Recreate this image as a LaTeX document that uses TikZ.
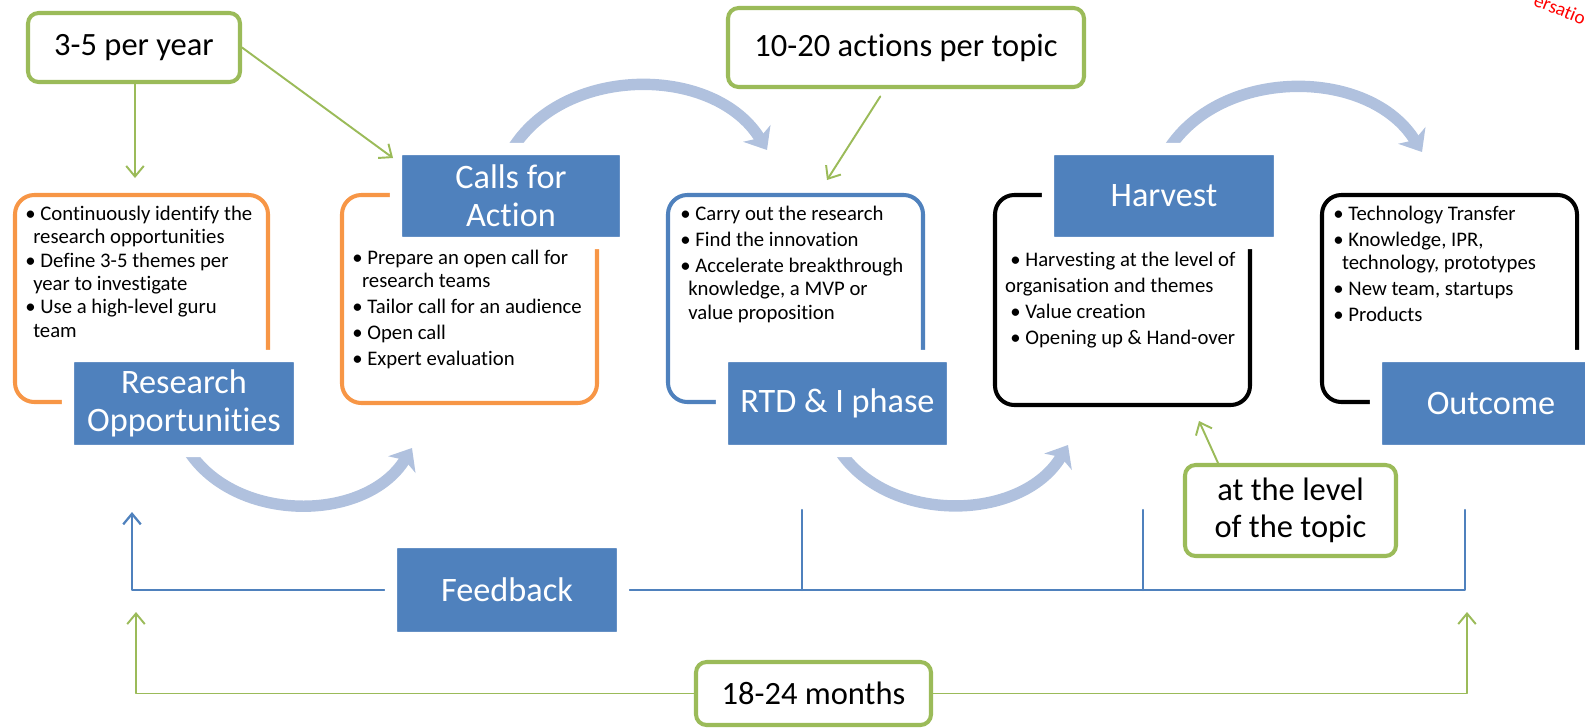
\documentclass[tikz,border=0pt]{standalone}
\usepackage{fontspec}
\setmainfont{Carlito}[Ligatures=NoCommon]
\usetikzlibrary{arrows.meta}
\definecolor{boxblue}{HTML}{4F81BD}
\definecolor{arcblue}{HTML}{B0C1DE}
\definecolor{listorange}{HTML}{F79646}
\definecolor{callgreen}{HTML}{9BBB59}
\newcommand{\bigfont}{\fontsize{19.5}{21.5}\selectfont}
\newcommand{\callfont}{\fontsize{18.5}{21}\selectfont}
\newcommand{\listfont}{\fontsize{11.8}{13.3}\selectfont}
\def\pxu{0.02cm}
\begin{document}
\begin{tikzpicture}[x=0.02cm, y=0.02cm, >={Straight Barb[length=6pt,width=10pt]}, line join=round, line cap=round,
	sz/.style 2 args={minimum width=#1*\pxu, minimum height=#2*\pxu},
	bluebox/.style={fill=boxblue, draw=white, line width=7pt, rounded corners=3pt, text=white, font=\bigfont, align=center, inner sep=0pt},
	listbox/.style={draw=#1, line width=2.3pt, rounded corners=11pt, inner sep=0pt},
	callout/.style={draw=callgreen, fill=white, line width=2.3pt, rounded corners=6pt, font=\callfont, align=center, inner sep=0pt},
	bullets/.style={font=\listfont, align=left, inner sep=0pt, anchor=base west},
	garrow/.style={draw=callgreen, line width=1.1pt, ->},
	fbline/.style={draw=boxblue, line width=1.3pt},
	bigarc/.style={draw=arcblue, line width=6.5pt, line cap=butt, -{Stealth[length=11pt,width=18pt,inset=3pt]}}]
	\useasboundingbox (0,0) rectangle (1585,-727);
	% outlined boxes
	\node[listbox=listorange, sz={253}{207}] (roList) at (141.5,-298.5) {};
	\node[listbox=listorange, sz={255}{208}] (cfaList) at (469.5,-299) {};
	\node[listbox=boxblue, sz={255}{207}] (rtdList) at (795.5,-298.5) {};
	\node[listbox=black, sz={255}{210}] (hvList) at (1122.5,-300) {};
	\node[listbox=black, sz={255}{207}] (ocList) at (1449.5,-298.5) {};
	% cycle arcs
	\coordinate (a1s) at (188,-450); \coordinate (a1e) at (412,-448);
	\coordinate (a2s) at (513,-148); \coordinate (a2e) at (767,-150);
	\coordinate (a3s) at (839,-450); \coordinate (a3e) at (1068,-445);
	\coordinate (a4s) at (1168,-150); \coordinate (a4e) at (1422,-152);
	\draw[bigarc] (a1s) to[bend right=58] (a1e);
	\draw[bigarc] (a2s) to[bend left=58] (a2e);
	\draw[bigarc] (a3s) to[bend right=58] (a3e);
	\draw[bigarc] (a4s) to[bend left=58] (a4e);
	% phases
	\node[bluebox, sz={232}{95}] (ro) at (184,-403.5) {Research\\Opportunities};
	\node[bluebox, sz={230}{94}] (cfa) at (511,-196) {Calls for\\Action};
	\node[bluebox, sz={231}{95}] (rtd) at (837.5,-403.5) {RTD \& I phase};
	\node[bluebox, sz={232}{94}] (hv) at (1164,-196) {Harvest};
	\node[bluebox, sz={230}{95}] (oc) at (1491,-403.5) {Outcome};
	% bullet lists (anchored on the last line)
	\node[bullets] (roTxt) at (25,-337.3) {\textbullet\ Continuously identify the\\
		\hspace*{4.5pt}research opportunities\\
		\textbullet\ Define 3-5 themes per\\
		\hspace*{4.5pt}year to investigate\\
		\textbullet\ Use a high-level guru\\
		\hspace*{4.5pt}team};
	\node[bullets] (cfaTxt) at (352,-365.8) {\textbullet\ Prepare an open call for\\
		\hspace*{5.5pt}research teams\\[1.5pt]
		\textbullet\ Tailor call for an audience\\[1.5pt]
		\textbullet\ Open call\\[1.5pt]
		\textbullet\ Expert evaluation};
	\node[bullets] (rtdTxt) at (680,-319.1) {\textbullet\ Carry out the research\\[1.5pt]
		\textbullet\ Find the innovation\\[1.5pt]
		\textbullet\ Accelerate breakthrough\\
		\hspace*{4.5pt}knowledge, a MVP or\\
		\hspace*{4.5pt}value proposition};
	\node[bullets] (hvTxt) at (1010,-344.3) {\textbullet\ Harvesting at the level of\\[1.5pt]
		\hspace*{-3pt}organisation and themes\\[1.5pt]
		\textbullet\ Value creation\\[1.5pt]
		\textbullet\ Opening up \& Hand-over};
	\node[bullets] (ocTxt) at (1333,-321.8) {\textbullet\ Technology Transfer\\[1.5pt]
		\textbullet\ Knowledge, IPR,\\
		\hspace*{5pt}technology, prototypes\\[1.5pt]
		\textbullet\ New team, startups\\[1.5pt]
		\textbullet\ Products};
	% feedback line
	\coordinate (fbL) at (132,-512); \coordinate (fbBase) at (132,-590);
	\coordinate (fbR) at (1465,-510);
	\coordinate (fbT1) at (802,-510); \coordinate (fbT2) at (1143,-510);
	\draw[fbline, ->] (fbR) |- (fbBase) -- (fbL);
	\draw[fbline] (fbT1) -- (fbT1 |- fbBase) (fbT2) -- (fbT2 |- fbBase);
	\node[bluebox, sz={232}{96}] (fb) at (507,-590) {Feedback};
	% callouts
	\node[callout, sz={212}{69}] (yr) at (134,-47.5) {3-5 per year};
	\node[callout, sz={356}{79}] (tp) at (906,-47.5) {10-20 actions per topic};
	\node[callout, sz={211}{91}] (lv) at (1290.5,-510.5) {at the level\\of the topic};
	\node[callout, sz={235}{63}] (mo) at (813.5,-693.5) {18-24 months};
	\coordinate (yrA) at (135,-178); \coordinate (yrB) at (393,-158);
	\coordinate (tpA) at (885,0); \coordinate (tpB) at (827,-180);
	\coordinate (lvA) at (1218,0); \coordinate (lvB) at (1199,-421);
	\coordinate (moL) at (136,-612); \coordinate (moR) at (1467,-612);
	\draw[garrow] (yrA |- yr.south) -- (yrA);
	\draw[garrow] (yr.east) -- (yrB);
	\draw[garrow, shorten <=5pt] (tp.south -| tpA) -- (tpB);
	\draw[garrow] (lv.north -| lvA) -- (lvB);
	\draw[garrow] (mo.west) -| (moL);
	\draw[garrow] (mo.east) -| (moR);
	\node[red, rotate=-22, font=\fontsize{11}{13}\selectfont] (draftTag) at (1560,-9) {ersatio};
\end{tikzpicture}
\end{document}
